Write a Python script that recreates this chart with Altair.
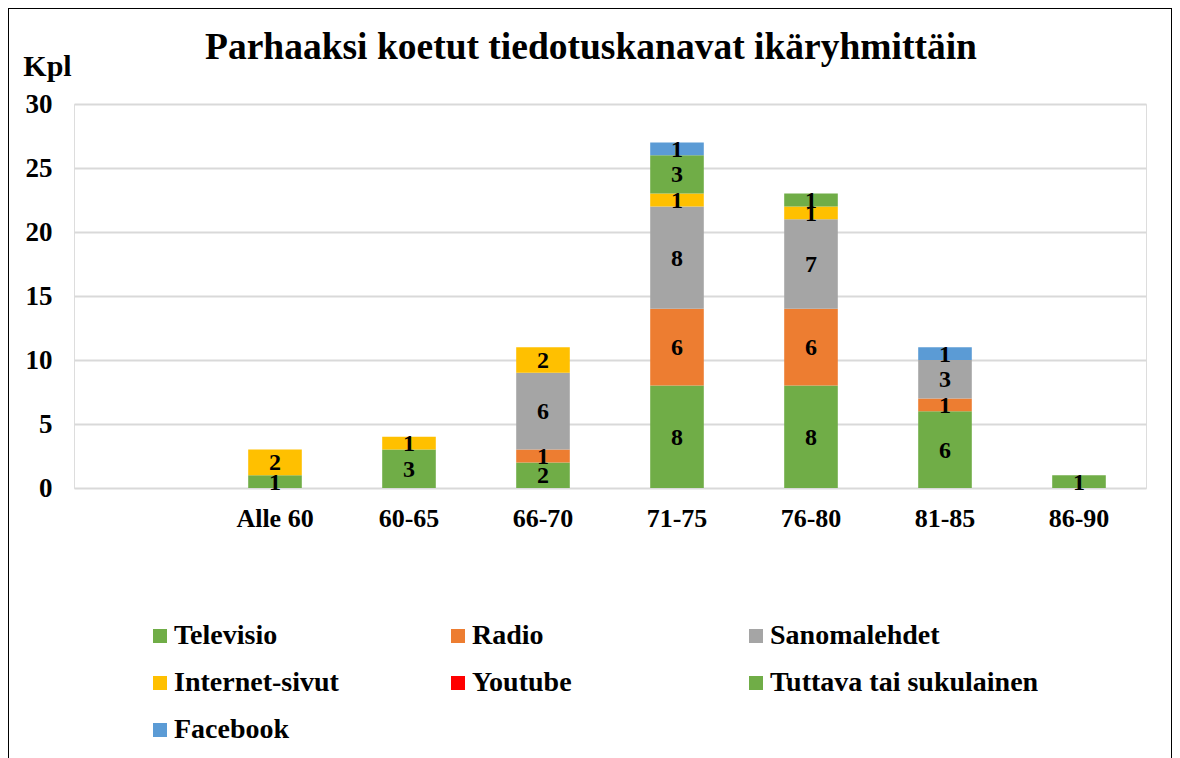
import altair as alt
import pandas as pd

categories = ["", "Alle 60", "60-65", "66-70", "71-75", "76-80", "81-85", "86-90"]
series = ["Televisio", "Radio", "Sanomalehdet", "Internet-sivut", "Youtube",
          "Tuttava tai sukulainen", "Facebook"]
colors = ["#70AD47", "#ED7D31", "#A5A5A5", "#FFC000", "#FF0000", "#70AD47", "#5B9BD5"]

groups = ["Alle 60", "60-65", "66-70", "71-75", "76-80", "81-85", "86-90"]
televisio = [1, 3, 2, 8, 8, 6, 1]
radio = [0, 0, 1, 6, 6, 1, 0]
sanomalehdet = [0, 0, 6, 8, 7, 3, 0]
internet = [2, 1, 2, 1, 1, 0, 0]
youtube = [0, 0, 0, 0, 0, 0, 0]
tuttava = [0, 0, 0, 3, 1, 0, 0]
facebook = [0, 0, 0, 1, 0, 1, 0]

values = [televisio, radio, sanomalehdet, internet, youtube, tuttava, facebook]
rows = []
for si, (s, vals) in enumerate(zip(series, values)):
    for g, v in zip(groups, vals):
        if v > 0:
            rows.append({"cat": g, "series": s, "order": si, "value": v})
df = pd.DataFrame(rows)

FONT = "Times New Roman"

base = alt.Chart(df).transform_stack(
    stack="value", groupby=["cat"], as_=["y0", "y1"],
    sort=[alt.SortField("order", order="ascending")]
).transform_calculate(mid="(datum.y0 + datum.y1) / 2")

xscale = alt.Scale(domain=categories, paddingInner=0.6, paddingOuter=0.3)

x_enc = alt.X("cat:N", scale=xscale,
              axis=alt.Axis(title=None, labelAngle=0, domain=False, ticks=False,
                            labelFont=FONT, labelFontWeight="bold", labelFontSize=26,
                            labelColor="black", labelPadding=17, labelBaseline="top"))

bars = base.mark_bar().encode(
    x=x_enc,
    y=alt.Y("y0:Q", scale=alt.Scale(domain=[0, 30], nice=False),
            axis=alt.Axis(title="Kpl", values=[0, 5, 10, 15, 20, 25, 30], domain=False, ticks=False,
                          grid=True, gridColor="#D9D9D9", gridWidth=2,
                          labelFont=FONT, labelFontWeight="bold", labelFontSize=27,
                          labelColor="black", labelPadding=22,
                          titleFont=FONT, titleFontWeight="bold", titleFontSize=30,
                          titleColor="black", titleAngle=0, titleX=-27, titleY=-38,
                          titleAlign="center", titleBaseline="middle")),
    y2="y1:Q",
    color=alt.Color("series:N", scale=alt.Scale(domain=series, range=colors),
                    legend=alt.Legend(title=None, orient="none", legendX=72, legendY=518,
                                      direction="horizontal", columns=3, gridAlign="all",
                                      columnPadding=1, rowPadding=19,
                                      symbolType="square", symbolSize=196, symbolStrokeWidth=0,
                                      labelFont=FONT, labelFontWeight="bold", labelFontSize=28,
                                      labelColor="black", labelOffset=0, labelLimit=500)),
    order=alt.Order("order:Q"),
)

labels = base.mark_text(font=FONT, fontWeight="bold", fontSize=24, color="black",
                        baseline="middle", dy=1).encode(
    x=alt.X("cat:N", scale=xscale),
    y=alt.Y("mid:Q"),
    text=alt.Text("value:Q"),
)

frame = alt.Chart(alt.Data(values=[{}])).mark_rect(filled=False, stroke="black", strokeWidth=2).encode(
    x=alt.value(-66), x2=alt.value(1098), y=alt.value(-96), y2=alt.value(800)
)

chart = alt.layer(bars, labels, frame).properties(
    width=1072, height=384,
    title=alt.TitleParams("Parhaaksi koetut tiedotuskanavat ikäryhmittäin",
                          font=FONT, fontWeight="bold", fontSize=37.5, color="black",
                          anchor="middle", dx=-19, offset=-89, baseline="alphabetic",
                          frame="group"),
    autosize=alt.AutoSizeParams(type="none"),
    padding={"left": 66, "top": 96, "right": 26, "bottom": 270},
).configure_view(stroke=None).configure(background="white")

chart.save("out.html", embed_options={"renderer": "svg", "actions": False})
